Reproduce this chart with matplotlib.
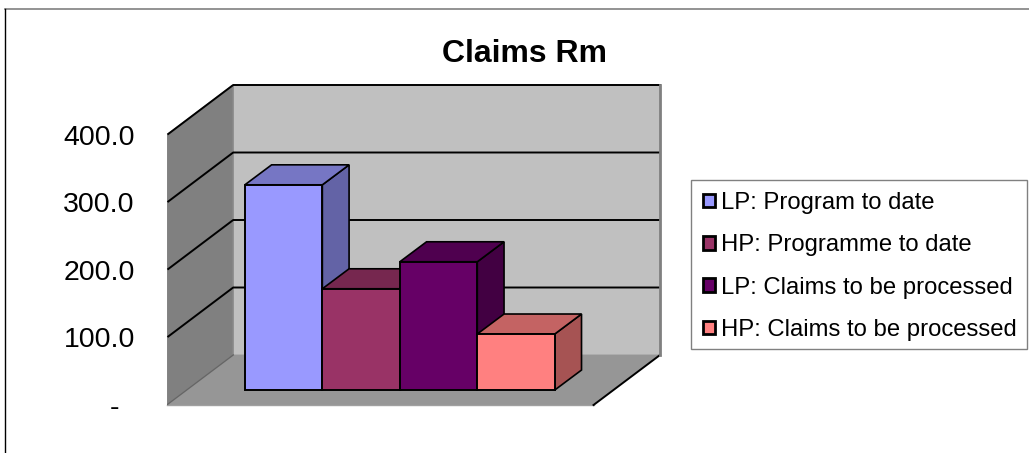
import matplotlib
matplotlib.use("Agg")
import matplotlib.pyplot as plt
from matplotlib.patches import Polygon, Patch, Rectangle
from matplotlib.lines import Line2D

plt.rcParams['font.family'] = ['Liberation Sans', 'DejaVu Sans']

# data
series = ["LP: Program to date", "HP: Programme to date",
          "LP: Claims to be processed", "HP: Claims to be processed"]
values = [304, 150, 190, 83]
ticks = [0, 100, 200, 300, 400]
tick_labels = ["-  ", "100.0", "200.0", "300.0", "400.0"]
colors = ["#9999FF", "#993366", "#660066", "#FF8080"]

W, H = 1029, 453
fig = plt.figure(figsize=(W / 100, H / 100), dpi=100, facecolor="white")
ax = fig.add_axes([166.7 / W, (H - 405) / H, (660 - 166.7) / W, 320 / H])

XL, XR = -1.009, 4.5          # front floor extent, in bar widths
WDX, WDY = 0.858, 74.07       # wall depth
BDX, BDY = 0.345, 29.6        # bar depth
BASE = 22.2                   # bar baseline above the front floor edge
YMAX = 400

ax.set_xlim(XL, XR + WDX)
ax.set_ylim(0, YMAX + WDY)
for s in ax.spines.values():
    s.set_visible(False)
ax.patch.set_alpha(0)
ax.set_xticks([])
ax.set_yticks(ticks)
ax.set_yticklabels(tick_labels, fontsize=20.5)
ax.tick_params(axis="y", length=0, pad=23)

# walls and floor
ax.add_patch(Polygon([(XL + WDX, WDY), (XR + WDX, WDY), (XR + WDX, YMAX + WDY), (XL + WDX, YMAX + WDY)],
                     fc="#C0C0C0", ec="none", zorder=1))
ax.add_patch(Polygon([(XL, 0), (XL + WDX, WDY), (XL + WDX, YMAX + WDY), (XL, YMAX)],
                     fc="#808080", ec="#8c8c8c", lw=1, zorder=1))
ax.add_patch(Polygon([(XL, 0), (XR, 0), (XR + WDX, WDY), (XL + WDX, WDY)],
                     fc="#969696", ec="none", zorder=2))
ax.plot([XL, XR], [0, 0], color="#a0a0a0", lw=1, zorder=2.1, clip_on=False)
ax.plot([XL, XL + WDX], [0, WDY], color="#666666", lw=1, zorder=2.1)
ax.plot([XR, XR + WDX], [0, WDY], color="black", lw=1.4, zorder=2.1, clip_on=False)
ax.plot([XR + WDX] * 2, [WDY, YMAX + WDY], color="#808080", lw=2, zorder=2.1, clip_on=False)
ax.plot([XL + WDX, XR + WDX], [WDY, WDY], color="#606060", lw=1, zorder=1.5)
for t in ticks[1:]:
    ax.plot([XL + 0.02, XL + WDX, XR + WDX],
            [t + 1.5, t + WDY, t + WDY], color="black", lw=1.4, zorder=1.5, clip_on=False)

# bars
def shade(c, f):
    r, g, b = matplotlib.colors.to_rgb(c)
    return (r * f, g * f, b * f)

z = 3
for i, (v, c) in enumerate(zip(values, colors)):
    top = BASE + v
    ax.add_patch(Polygon([(i + 1, BASE), (i + 1 + BDX, BASE + BDY), (i + 1 + BDX, top + BDY), (i + 1, top)],
                         fc=shade(c, 0.65), ec="black", lw=1.2, zorder=z))
    ax.add_patch(Polygon([(i, top), (i + 1, top), (i + 1 + BDX, top + BDY), (i + BDX, top + BDY)],
                         fc=shade(c, 0.77), ec="black", lw=1.2, zorder=z))
    ax.bar(i, v, width=1, bottom=BASE, align="edge", color=c, edgecolor="black", lw=1.4, zorder=z + 0.5)
    z += 1

fig.text(524 / W, 1 - 53.5 / H, "Claims Rm", fontsize=23, fontweight="bold",
         ha="center", va="center")

# legend
fig.add_artist(Rectangle((690.7 / W, 1 - 349 / H), (1026.7 - 690.7) / W, 169 / H,
                         transform=fig.transFigure, fc="white", ec="#808080", lw=1))
handles = [Patch(facecolor=c, edgecolor="black", linewidth=2) for c in colors]
leg = fig.legend(handles, series, loc="upper left",
                 bbox_to_anchor=(690.7 / W, 1 - 180 / H), bbox_transform=fig.transFigure,
                 fontsize=17.2, frameon=False, borderaxespad=0, borderpad=0.5,
                 labelspacing=0.85, handlelength=0.5, handleheight=0.5, handletextpad=0.28)

# outer frame
fig.add_artist(Line2D([4.5 / W, 1], [1 - 8.5 / H] * 2, transform=fig.transFigure, color="#808080", lw=1.2))
fig.add_artist(Line2D([4.5 / W] * 2, [0, 1 - 8.5 / H], transform=fig.transFigure, color="black", lw=1))

fig.savefig("out.png", dpi=100)
